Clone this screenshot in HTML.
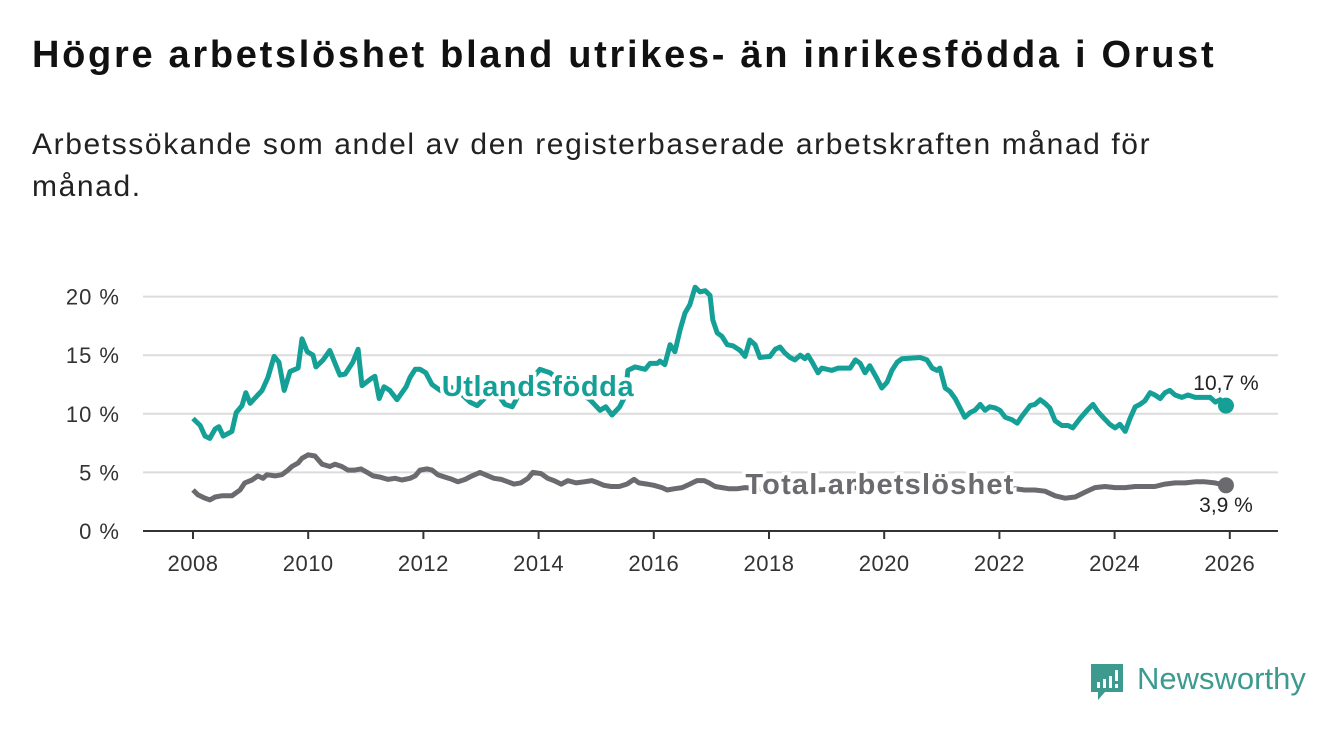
<!DOCTYPE html>
<html><head><meta charset="utf-8">
<style>
html,body{margin:0;padding:0;background:#fff;width:1340px;height:734px;overflow:hidden;font-family:"Liberation Sans","DejaVu Sans",sans-serif;}
h1{position:absolute;left:32px;top:34px;margin:0;font-size:38px;font-weight:bold;color:#111;letter-spacing:2.7px;white-space:nowrap;}
.sub{position:absolute;left:32px;top:124px;width:1180px;margin:0;font-size:30px;line-height:42px;color:#222;letter-spacing:1.6px;}
svg{position:absolute;left:0;top:0;}
</style></head><body>
<h1>Högre arbetslöshet bland utrikes- än inrikesfödda i Orust</h1>
<p class="sub">Arbetssökande som andel av den registerbaserade arbetskraften månad för månad.</p>
<svg id="chart" width="1340" height="734"></svg>
<div style="position:absolute;left:1089px;top:662px;height:44px;">
<svg width="36" height="40" style="position:absolute;left:0;top:0"><path d="M2 2h32v28H16l-7 8v-8H2z" fill="#3d9a8f"/><rect x="8" y="20" width="3" height="6" fill="#fff"/><rect x="14" y="17" width="3" height="9" fill="#fff"/><rect x="20" y="14" width="3" height="12" fill="#fff"/><rect x="26" y="8" width="3" height="11" fill="#fff"/><rect x="26" y="22" width="3" height="4" fill="#fff"/></svg>
<span style="position:absolute;left:48px;top:-1px;font-size:31px;color:#3d9a8f;font-weight:normal;white-space:nowrap">Newsworthy</span>
</div>
<script>
const yTicks=[0,5,10,15,20];
const yTickLabels=["0 %","5 %","10 %","15 %","20 %"];
const xTickYears=[2008,2010,2012,2014,2016,2018,2020,2022,2024,2026];
const foreignMonths=[0,1.5,2.5,3.5,4.6,5.4,6.3,8.1,9,10.2,11,11.9,14.4,15.6,16.9,17.9,19,20.2,21.9,22.7,23.8,25,25.6,27.1,28.5,29.8,30.6,31.7,33.3,34.4,35.2,37.1,37.9,38.8,39.8,41,42.5,44.4,45.2,46.3,47.3,48.5,49.8,51.5,53.5,55.6,57.7,59.2,61.2,62.9,65,66.5,68.1,70.2,72.3,74.4,76.5,78.5,80.6,82.7,84.8,86,87.3,88.9,90,90.6,92.1,94.2,95.2,96.7,97.3,98.3,99.4,100.4,101.5,102.5,103.5,104.6,105.6,106.7,107.7,108.3,109.2,110.2,111.3,112.5,114,115,116,117.1,118.1,120.2,121.3,122.3,123.3,124.4,125.4,126.5,127.5,128.1,129,130.2,131,133.1,134.4,136.9,138,139,140,141,142.5,143.5,144.6,145.6,146.7,147.7,151.5,152.9,154,155,155.6,156.7,157.7,158.8,159.8,160.8,161.9,162.9,164,165,166,167.1,168.1,169.2,170.6,171.7,172.7,174.4,175.4,176.5,177.5,178.5,179.6,181,182.3,183.3,184.8,186.3,187.5,188.5,189.6,191,192.1,193.1,194.2,195.2,196.3,197.3,198.3,199.4,200.4,201.5,202.5,203.5,204.6,206,207.3,208.8,209.8,211.9,213,214,215.2];
const foreignValues=[9.6,9.0,8.1,7.9,8.7,8.9,8.1,8.5,10.1,10.7,11.8,10.9,12.0,13.1,14.9,14.4,12.0,13.6,13.9,16.4,15.3,15.0,14.0,14.6,15.4,14.1,13.3,13.4,14.4,15.5,12.4,13.0,13.2,11.3,12.3,12.0,11.2,12.3,13.1,13.8,13.8,13.5,12.5,12.0,12.3,11.8,11.0,10.7,11.5,12.0,10.8,10.6,11.8,12.8,13.8,13.5,12.8,12.2,11.8,11.2,10.3,10.6,9.9,10.6,11.5,13.7,14.0,13.8,14.3,14.3,14.5,14.2,15.9,15.3,17.2,18.6,19.3,20.8,20.4,20.5,20.1,18.0,16.9,16.6,15.9,15.8,15.4,14.9,16.3,15.9,14.8,14.9,15.5,15.7,15.2,14.8,14.6,15.0,14.7,15.0,14.4,13.5,13.9,13.7,13.9,13.9,14.6,14.3,13.5,14.1,13.0,12.2,12.7,13.7,14.4,14.7,14.8,14.6,13.9,13.7,13.9,12.2,11.9,11.3,10.5,9.7,10.1,10.3,10.8,10.3,10.6,10.5,10.3,9.7,9.5,9.2,9.8,10.7,10.8,11.2,10.9,10.5,9.4,9.0,9.0,8.8,9.6,10.3,10.8,10.2,9.7,9.1,8.8,9.1,8.5,9.6,10.6,10.8,11.1,11.8,11.6,11.3,11.8,12.0,11.6,11.4,11.6,11.4,11.4,11.4,11.0,11.2,10.7];
const totalMonths=[0,1,2.5,3.5,4.6,6,8.1,9.8,10.8,12.3,13.5,14.6,15.4,17.1,18.5,19.8,20.6,21.9,22.7,24,25.4,26.9,28.5,29.6,31,32.3,33.7,35,36.3,37.5,39,40.6,42.1,43.5,45.2,46.3,47.3,48.8,49.8,51,52.5,54,55.2,56.7,58.1,59.8,61.5,62.7,64.2,65.6,66.9,68.3,69.8,70.8,72.5,73.9,75.2,76.7,78.1,79.8,81.5,83.1,84.4,85.6,87.1,88.8,90.4,91.9,92.9,94.6,96,97.7,98.8,100.2,101.9,103.5,105,106.5,107.5,108.8,110.2,111.7,113.3,115,118,122,126,130,134,138,142,146,150,154,158,162,166,170,171.3,173.3,175.4,177.5,179.6,181.7,183.8,185.8,187.9,190,192.1,194.2,196.3,198.3,200.4,202.5,204.6,206.7,208.8,210.8,212.9,215.2];
const totalValues=[3.5,3.1,2.8,2.65,2.9,3.0,3.0,3.5,4.1,4.35,4.7,4.5,4.8,4.7,4.8,5.2,5.5,5.8,6.2,6.5,6.4,5.7,5.5,5.7,5.5,5.2,5.2,5.3,5.0,4.7,4.6,4.4,4.5,4.35,4.5,4.7,5.2,5.3,5.2,4.8,4.6,4.4,4.2,4.4,4.7,5.0,4.7,4.5,4.4,4.2,4.0,4.1,4.5,5.0,4.9,4.5,4.3,4.0,4.3,4.1,4.2,4.3,4.1,3.9,3.8,3.8,4.0,4.4,4.1,4.0,3.9,3.7,3.5,3.6,3.7,4.0,4.3,4.3,4.1,3.8,3.7,3.6,3.6,3.7,3.6,3.7,3.6,3.5,3.6,3.7,3.8,3.8,3.7,3.6,3.6,3.5,3.5,3.5,3.6,3.5,3.5,3.4,3.0,2.8,2.9,3.3,3.7,3.8,3.7,3.7,3.8,3.8,3.8,4.0,4.1,4.1,4.2,4.2,4.1,3.9];
const endLabels=["10,7 %","3,9 %"];

const NS="http://www.w3.org/2000/svg";
const svg=document.getElementById('chart');
const X0=193, PXM=4.8, Y0=531, PXV=11.72;
function xs(m){return X0+m*PXM;}
function xy(y){return X0+(y-2008)*12*PXM;}
function ys(v){return Y0-v*PXV;}
function mk(t,a,txt){const e=document.createElementNS(NS,t);for(const k in a)e.setAttribute(k,a[k]);if(txt!==undefined)e.textContent=txt;svg.appendChild(e);return e;}
const F='"Liberation Sans","DejaVu Sans",sans-serif';
yTicks.forEach((v,i)=>{
  if(v>0){const g=mk('line',{x1:143,x2:1278,y1:ys(v),y2:ys(v),stroke:'#dcdcdc','stroke-width':2});
  
  }
  const t=mk('text',{x:120,y:ys(v)+8,'text-anchor':'end','font-size':22,'letter-spacing':1,fill:'#333','font-family':F},yTickLabels[i]);
  
  
});
const ax=mk('line',{x1:143,x2:1278,y1:Y0,y2:Y0,stroke:'#333','stroke-width':2});


xTickYears.forEach(y=>{
  const tk=mk('line',{x1:xy(y),x2:xy(y),y1:Y0,y2:Y0+8,stroke:'#333','stroke-width':2});
  
  
  const t=mk('text',{x:xy(y),y:571,'text-anchor':'middle','font-size':22,'letter-spacing':0.5,fill:'#333','font-family':F},String(y));
  
  
});
function path(ms,vs){return ms.map((m,i)=>(i?'L':'M')+xs(m).toFixed(1)+','+ys(vs[i]).toFixed(1)).join('');}
const lt=mk('path',{d:path(totalMonths,totalValues),fill:'none',stroke:'#6b6a6e','stroke-width':5,'stroke-linejoin':'round'});


const lf=mk('path',{d:path(foreignMonths,foreignValues),fill:'none',stroke:'#14a096','stroke-width':5,'stroke-linejoin':'round'});


const nF=foreignMonths.length-1, nT=totalMonths.length-1;
const d1=mk('circle',{cx:xs(foreignMonths[nF]),cy:ys(foreignValues[nF]),r:8,fill:'#14a096'});


const d2=mk('circle',{cx:xs(totalMonths[nT]),cy:ys(totalValues[nT]),r:8,fill:'#6b6a6e'});


const l1=mk('text',{x:538,y:396,'text-anchor':'middle','font-size':29,'letter-spacing':0.6,'font-weight':'bold',fill:'#14a096',stroke:'#fff','stroke-width':7,'paint-order':'stroke','font-family':F},'Utlandsfödda');


const l2=mk('text',{x:880,y:494,'text-anchor':'middle','font-size':29,'letter-spacing':1.2,'font-weight':'bold',fill:'#6b6a6e',stroke:'#fff','stroke-width':7,'paint-order':'stroke','font-family':F},'Total arbetslöshet');


const e1=mk('text',{x:1226,y:390,'text-anchor':'middle','font-size':21,fill:'#222',stroke:'#fff','stroke-width':5,'paint-order':'stroke','font-family':F},endLabels[0]);


const e2=mk('text',{x:1226,y:512,'text-anchor':'middle','font-size':21,fill:'#222',stroke:'#fff','stroke-width':5,'paint-order':'stroke','font-family':F},endLabels[1]);


</script>
</body></html>
